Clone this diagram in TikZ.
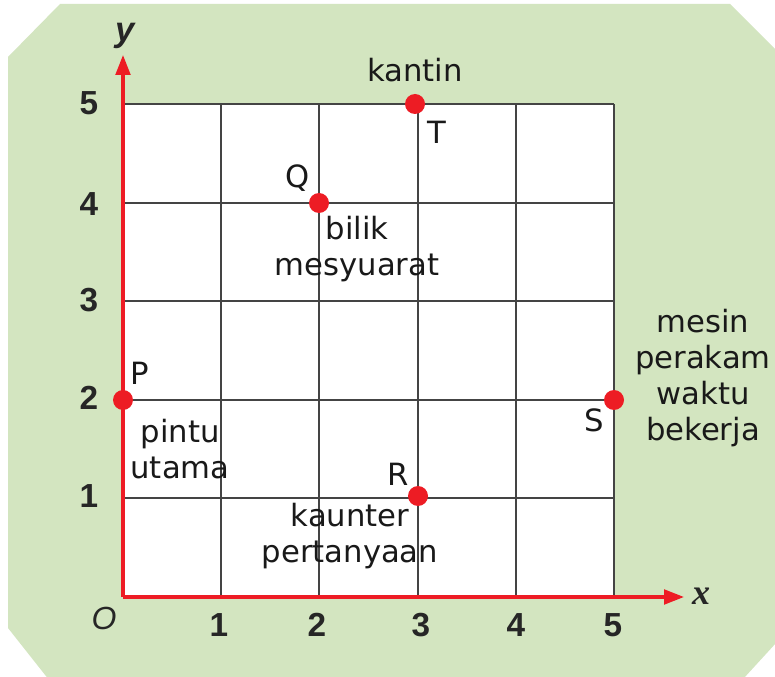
\documentclass[tikz,border=0pt]{standalone}
\usepackage{fontspec}
\setmainfont{DejaVu Sans}
\newfontfamily\axisfont{Liberation Serif}
\newfontfamily\numfont{Liberation Sans}
\usetikzlibrary{arrows.meta}
\definecolor{bggreen}{RGB}{211,229,192}
\definecolor{axred}{RGB}{237,28,36}
\definecolor{gridgray}{RGB}{68,68,68}
\begin{document}
\begin{tikzpicture}[x=0.75pt,y=-0.75pt,
  lbl/.style={font=\fontsize{23}{27}\selectfont, inner sep=0pt, align=center, text=black!90},
  num/.style={font=\fontsize{25}{26}\selectfont\numfont\bfseries, inner sep=0pt, text=black!85},
  pt/.style={circle, fill=axred, minimum size=15pt, inner sep=0pt},
  axis/.style={draw=axred, line width=2.4pt, -{Triangle[length=15pt,width=11pt]}},
  gridline/.style={draw=gridgray, line width=1.5pt}]
\useasboundingbox (0,0) rectangle (775,677);
\fill[white] (0,0) rectangle (775,677);
\fill[bggreen] (60,4) -- (730,4) -- (776,50) -- (776,643) -- (733,690) -- (57,690) -- (8,628) -- (8,57) -- cycle;
% grid
\fill[white] (123,104) rectangle (614,597);
\foreach \i in {1,...,5} {
  \draw[gridline] ({123+98.2*\i},104) -- ({123+98.2*\i},597);
  \draw[gridline] (123,{597-98.6*\i}) -- (614,{597-98.6*\i});
}
% axes
\coordinate (O) at (123,597);
\coordinate (xend) at (684,597);
\coordinate (yend) at (123,55);
\draw[axis] (O) -- (xend);
\draw[axis] (O) -- (yend);
\node[font=\fontsize{27}{28}\selectfont\axisfont\bfseries\itshape, inner sep=0pt, text=black!85] (xl) at (701,596) {x};
\node[font=\fontsize{26}{28}\selectfont\numfont\bfseries\itshape, inner sep=0pt, text=black!85] (yl) at (125,36) {y};
\node[font=\fontsize{24}{26}\selectfont\numfont\itshape, inner sep=0pt, text=black!85] (ol) at (104,618) {O};
% tick labels
\node[num] (x1) at (219,625) {1};
\node[num] (x2) at (317,625) {2};
\node[num] (x3) at (421,625) {3};
\node[num] (x4) at (516,625) {4};
\node[num] (x5) at (613,625) {5};
\node[num] (y1) at (89,496) {1};
\node[num] (y2) at (89,398) {2};
\node[num] (y3) at (89,300) {3};
\node[num] (y4) at (89,204) {4};
\node[num] (y5) at (89,103) {5};
% points
\node[pt] (T) at (415,104) {};
\node[pt] (Q) at (319,203) {};
\node[pt] (P) at (123,400) {};
\node[pt] (S) at (614,400) {};
\node[pt] (R) at (418,496) {};
% labels
\node[lbl] (kantin) at (415,70) {kantin};
\node[lbl] (Tl) at (437,132) {T};
\node[lbl] (Ql) at (298,178) {Q};
\node[lbl] (bilik) at (357,249) {bilik\\mesyuarat};
\node[lbl] (Pl) at (140,373) {P};
\node[lbl] (pintu) at (180,449) {pintu\\utama};
\node[lbl] (Rl) at (398,474) {R};
\node[lbl] (kaunter) at (350,536) {kaunter\\pertanyaan};
\node[lbl] (mesin) at (703,378) {mesin\\perakam\\waktu\\bekerja};
\node[lbl] (Sl) at (594,420) {S};
\end{tikzpicture}
\end{document}
